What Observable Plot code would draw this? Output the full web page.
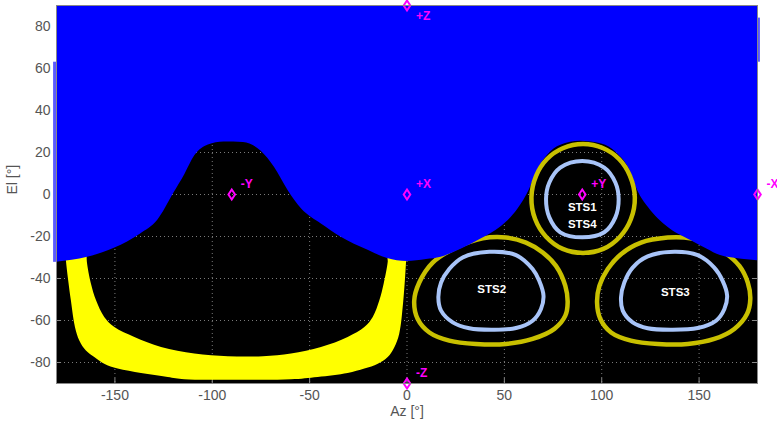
<!DOCTYPE html>
<html><head><meta charset="utf-8">
<script src="https://cdn.jsdelivr.net/npm/d3@7"></script>
<script src="https://cdn.jsdelivr.net/npm/@observablehq/plot@0.6"></script>
<style>body{margin:0;background:#fff;}</style>
</head><body><div id="chart"></div>
<script>
const xTicks = [-150,-100,-50,0,50,100,150];
const yTicks = [-80,-60,-40,-20,0,20,40,60,80];

// Blue (occulted) region lower boundary
const blueAz = [-180,-164,-150,-137,-128,-120,-114,-109,-102,-94,-84,-75,-68,-61,-54,-49,-44,-34,-20,-10,0,10,17.5,28,38,48,57,63,67,72,79,89,100,108,115,118.5,124,134,146,154,161,172,180];
const blueEl = [-32.3,-29.9,-25.5,-18.9,-12.3,0.2,9.7,18.4,23.6,25,24.8,20.7,12.8,1.8,-7,-11,-14,-20.2,-26.6,-30.5,-31.9,-31,-29.9,-26,-21.2,-15.6,-6.9,2.5,11.5,18.5,23.5,25.3,24,19.5,10.5,1.8,-6.2,-15.6,-22,-25.9,-29.1,-30.8,-31.5];

// Yellow band: outer edge (left to right), inner edge (right to left)
const yOuterAz = [-175.3,-175.1,-172.6,-170.5,-168.3,-164.9,-160.6,-155.5,-148.6,-136.6,-122.9,-114.4,-87,-59.6,-45.9,-30.5,-21.9,-15,-9.9,-6.5,-4,-1.9,-0.5,-0.4];
const yOuterEl = [-29,-32,-50.5,-63.2,-69.5,-74.3,-77.4,-80.6,-82.9,-85,-86.9,-88,-88.2,-88,-86.9,-85,-82.9,-80.6,-77.4,-72.7,-66.3,-50.5,-32,-29];
const yInnerAz = [-9.8,-9.9,-12,-14.2,-17.6,-21.9,-30.5,-44.2,-59.6,-74,-92,-109.2,-126.3,-140,-150.3,-155.5,-159.7,-162.3,-164.4,-164.5];
const yInnerEl = [-29,-32,-42.5,-50.4,-58.3,-63.1,-67.8,-72.6,-75.7,-77,-77,-75.7,-72.6,-67.8,-63.1,-58.3,-50.4,-42.5,-32,-29];

// STS rings
const sts1OliveAz = [90.4,100.8,109,114.5,117,115,109.4,100.8,90.4,80,71.4,65.8,63.9,66.3,71.8,80];
const sts1OliveEl = [24,22,16.8,8.9,-1.4,-11.7,-20.1,-25.9,-27.8,-25.9,-20.1,-11.7,-1.4,8.9,16.8,22];
const sts1BlueAz = [90,101.3,107,108.7,107,101.3,90,78.7,73.1,71.4,73.1,78.7];
const sts1BlueEl = [16,12.8,5.7,-2.2,-10.9,-18,-20.4,-18,-10.9,-2.2,5.7,12.8];
const sts2OliveAz = [50.8,61.1,69.7,76.5,81.3,82.5,81.3,75.7,64.5,50.8,35.4,21.7,11.5,5.5,3.7,6.3,13.2,25.2,38.9];
const sts2OliveEl = [-20.5,-22.9,-27.6,-34,-43.5,-51.4,-57.7,-64,-68.8,-71.2,-71.2,-69.6,-65.7,-59.3,-50.6,-41.9,-32.4,-25.3,-20.9];
const sts2BlueAz = [42.3,56,64.5,67.9,70.1,68.8,64.5,56,44,32,23.5,17.5,16.1,17.5,21.7,28.6];
const sts2BlueEl = [-27.3,-28.9,-35.5,-41.1,-48.2,-54.5,-60.1,-63.6,-64.4,-63.7,-60.9,-55.3,-49,-41.9,-35.5,-30];
const sts3OliveAz = [133.9,142.4,152.7,163,170.7,175,176.3,174.6,168.1,157.8,144.2,128.8,115,104.8,99.3,97.6,98.8,103.1,109.9,120.2];
const sts3OliveEl = [-20.5,-20.5,-22.5,-27.6,-34,-41.9,-49.8,-56.9,-64,-68.8,-71.2,-71.2,-69.6,-65.7,-59.3,-51.4,-43.5,-35.5,-28.4,-22.9];
const sts3BlueAz = [137.3,149.3,157.8,162.1,164.4,163,158.7,149.3,135.6,123.6,115.9,110.8,109.9,111.6,115.9,123.6];
const sts3BlueEl = [-27.3,-28.9,-34.8,-41.1,-48.2,-54.5,-60.1,-63.6,-64.4,-63.7,-60.9,-55.3,-49,-41.9,-34.8,-29.5];

// Body axes markers
const axisNames = ["+Z","+X","-Y","+Y","-X","-Z"];
const axisAz = [0,0,-90,90,180,0];
const axisEl = [90,0,0,0,0,-90];

// Sensor labels
const stsNames = ["STS1","STS4","STS2","STS3"];
const stsAz = [90,90,43.5,137.8];
const stsEl = [-6.2,-14.1,-45,-46.6];

const pts = (az, el) => az.map((a, i) => ({az: a, el: el[i]}));
const yellowPoly = pts(yOuterAz, yOuterEl).concat(pts(yInnerAz, yInnerEl));
const markers = axisNames.map((n, i) => ({name: n, az: axisAz[i], el: axisEl[i]}));
const stsText = stsNames.map((n, i) => ({name: n, az: stsAz[i], el: stsEl[i]}));

const OLIVE = "#c8c000", LBLUE = "#a8c4f8", MAG = "#ff00ff", GRID = "#7a7a7a";
const tallDiamond = {draw(ctx) { ctx.moveTo(0,-5); ctx.lineTo(3.3,0); ctx.lineTo(0,5); ctx.lineTo(-3.3,0); ctx.closePath(); }};
const ring = (az, el, color, w) => Plot.line(pts(az, el), {x: "az", y: "el", stroke: color, strokeWidth: w, curve: "catmull-rom-closed", fill: "none"});

const chart = Plot.plot({
  width: 777, height: 427,
  marginLeft: 56, marginRight: 20, marginTop: 5, marginBottom: 44,
  style: {fontFamily: "'Liberation Sans', Arial, sans-serif", fontSize: "14px", background: "white", color: "#555"},
  x: {domain: [-180, 180], ticks: xTicks, tickSize: 0, tickPadding: 7, tickFormat: d => String(d), label: null},
  y: {domain: [-90, 90], ticks: yTicks, tickSize: 0, tickPadding: 6, tickFormat: d => String(d), label: null},
  marks: [
    Plot.frame({fill: "black", stroke: "none"}),
    Plot.ruleX(xTicks, {stroke: GRID, strokeDasharray: "1,3"}),
    Plot.ruleY(yTicks, {stroke: GRID, strokeDasharray: "1,3"}),
    Plot.ruleX(xTicks, {y1: -90, y2: -87.6, stroke: "#888"}),
    Plot.ruleX(xTicks, {y1: 90, y2: 87.6, stroke: "#888"}),
    Plot.ruleY(yTicks, {x1: -180, x2: -177.4, stroke: "#888"}),
    Plot.ruleY(yTicks, {x1: 180, x2: 177.4, stroke: "#888"}),
    Plot.line(yellowPoly, {x: "az", y: "el", fill: "#ffff00", stroke: "none", curve: "catmull-rom"}),
    ring(sts2OliveAz, sts2OliveEl, OLIVE, 4.5),
    ring(sts3OliveAz, sts3OliveEl, OLIVE, 4.5),
    Plot.areaY(pts(blueAz, blueEl), {x: "az", y1: "el", y2: 90, fill: "#0000ff", curve: "monotone-x"}),
    Plot.rect([{x1: -181.5, x2: -180, y1: -32.3, y2: 63}], {x1: "x1", x2: "x2", y1: "y1", y2: "y2", fill: "#0000ff", fillOpacity: 0.65}),
    Plot.rect([{x1: 180, x2: 181.5, y1: 63, y2: 84}], {x1: "x1", x2: "x2", y1: "y1", y2: "y2", fill: "#0000ff", fillOpacity: 0.65}),
    ring(sts1OliveAz, sts1OliveEl, OLIVE, 4.5),
    ring(sts1BlueAz, sts1BlueEl, LBLUE, 4),
    ring(sts2BlueAz, sts2BlueEl, LBLUE, 4),
    ring(sts3BlueAz, sts3BlueEl, LBLUE, 4),
    Plot.text(stsText, {x: "az", y: "el", text: "name", fill: "white", fontWeight: "bold", fontSize: 11.5}),
    Plot.dot(markers, {x: "az", y: "el", symbol: tallDiamond, stroke: MAG, strokeWidth: 2, fill: "none"}),
    Plot.text(markers.filter(d => d.name !== "+Z"), {x: "az", y: "el", text: "name", fill: MAG, fontWeight: "bold", fontSize: 12, textAnchor: "start", dx: 9, dy: -10}),
    Plot.text(markers.filter(d => d.name === "+Z"), {x: "az", y: "el", text: "name", fill: MAG, fontWeight: "bold", fontSize: 12, textAnchor: "start", dx: 9, dy: 11}),
    Plot.frame({stroke: "#888", fill: "none"}),
    Plot.text(["El [°]"], {text: d => d, frameAnchor: "left", dx: -44, rotate: -90, fill: "#555", fontSize: 14}),
    Plot.text(["Az [°]"], {text: d => d, frameAnchor: "bottom", dy: 32, fill: "#555", fontSize: 14})
  ]
});
document.getElementById("chart").appendChild(chart);
</script>
</body></html>
